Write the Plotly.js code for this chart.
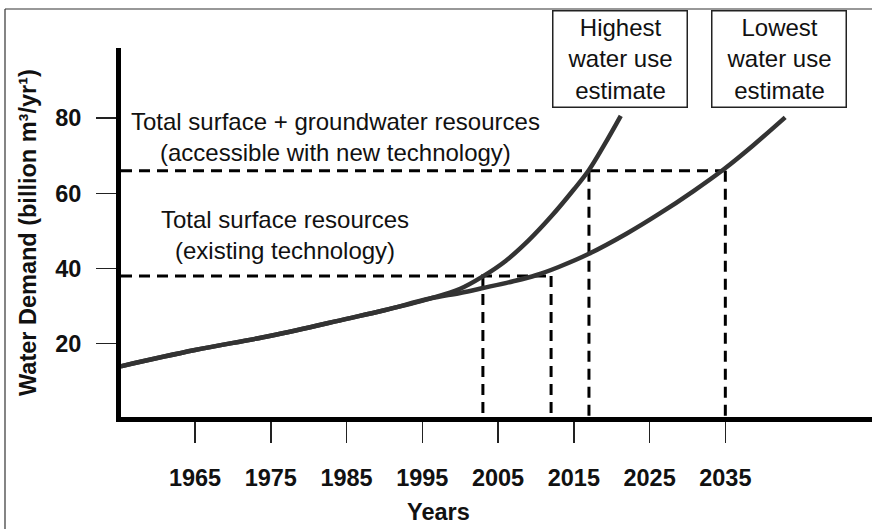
<!DOCTYPE html>
<html>
<head>
<meta charset="utf-8">
<script src="https://cdn.plot.ly/plotly-3.0.1.min.js"></script>
<style>
  html, body { margin: 0; padding: 0; background: #ffffff; }
  #chart { width: 872px; height: 529px; }
</style>
</head>
<body>
<div id="chart"></div>
<script>
// ---- Data ----
const yearsHigh  = [1955.2, 1965, 1975, 1985, 1990, 1996, 2000, 2003, 2006, 2009, 2012, 2015, 2017, 2019, 2021.2];
const demandHigh = [14.0, 18.3, 22.1, 26.6, 28.9, 32.0, 34.6, 37.9, 42.0, 47.4, 53.8, 61.0, 66.2, 72.8, 80.6];

const yearsLow  = [1955.2, 1965, 1975, 1985, 1990, 1996, 2000, 2003, 2007, 2010, 2013, 2017, 2022, 2026.4, 2030.8, 2034.8, 2038.7, 2042.9];
const demandLow = [14.0, 18.3, 22.1, 26.6, 28.9, 32.0, 33.5, 34.8, 36.6, 38.2, 40.4, 43.9, 49.3, 54.7, 60.6, 66.4, 72.8, 80.2];

// resource limits (billion m3/yr) and the years each estimate reaches them
const resourceLimits   = [38, 66];
const limitYearsHigh   = [2003, 2017];
const limitYearsLow    = [2012, 2035];
const limitLabels = [
  "Total surface resources<br>(existing technology)",
  "Total surface + groundwater resources<br>(accessible with new technology)"
];

const xTickVals = [1965, 1975, 1985, 1995, 2005, 2015, 2025, 2035];
const xTickText = ["1965", "1975", "1985", "1995", "2005", "2015", "2025", "2035"];
const yTickVals = [20, 40, 60, 80];
const yTickText = ["20", "40", "60", "80"];

const boxLabels = ["Highest<br>water use<br>estimate", "Lowest<br>water use<br>estimate"];

// ---- Build traces ----
const X0 = 1955.23, X1 = 2054.36;
const Y0 = 0.5, Y1 = 98.64;
const FONT = "Liberation Sans, Arial, Helvetica, sans-serif";
const dashStyle = {color: "#000000", width: 3, dash: "11px,7px"};

const traces = [];
resourceLimits.forEach((lim, i) => {
  const xEnd = Math.max(limitYearsHigh[i], limitYearsLow[i]);
  traces.push({x: [X0, xEnd], y: [lim, lim], mode: "lines", line: dashStyle, hoverinfo: "skip"});
  [limitYearsHigh[i], limitYearsLow[i]].forEach(yr => {
    traces.push({x: [yr, yr], y: [lim, 0], mode: "lines", line: dashStyle, hoverinfo: "skip"});
  });
});
traces.push({x: yearsHigh, y: demandHigh, mode: "lines",
  line: {color: "#333333", width: 4.5, shape: "spline", smoothing: 1}, name: "Highest"});
traces.push({x: yearsLow, y: demandLow, mode: "lines",
  line: {color: "#333333", width: 4.5, shape: "spline", smoothing: 1}, name: "Lowest"});

// ---- Layout ----
const W = 872, H = 529, L = 121, R = 0, T = 48, B = 112;
const pw = W - L - R, ph = H - T - B;
const px = v => (v - L) / pw;       // pixel -> paper x
const py = v => (H - B - v) / ph;   // pixel -> paper y

const txt = {family: FONT, size: 24, color: "#111"};
const bold = {family: FONT, size: 23.5, color: "#111", weight: "bold"};

const annotations = [
  {text: limitLabels[1], xref: "x", yref: "y", x: 1983.5, y: 75, showarrow: false,
   xanchor: "center", yanchor: "middle", font: txt, align: "center"},
  {text: limitLabels[0], xref: "x", yref: "y", x: 1976.9, y: 48.9, showarrow: false,
   xanchor: "center", yanchor: "middle", font: txt, align: "center"},
  {text: boxLabels[0], xref: "paper", yref: "paper", x: px(619.5), y: py(59), showarrow: false,
   xanchor: "center", yanchor: "middle", font: txt, align: "center",
   width: 131, height: 93, bordercolor: "#222", borderwidth: 1.5, borderpad: 1, bgcolor: "#fff"},
  {text: boxLabels[1], xref: "paper", yref: "paper", x: px(778.5), y: py(59), showarrow: false,
   xanchor: "center", yanchor: "middle", font: txt, align: "center",
   width: 131, height: 93, bordercolor: "#222", borderwidth: 1.5, borderpad: 1, bgcolor: "#fff"},
  {text: "Water Demand (billion m³/yr¹)", xref: "paper", yref: "paper", x: px(28), y: py(233),
   xanchor: "center", yanchor: "middle", textangle: -90, showarrow: false, font: bold},
  {text: "Years", xref: "paper", yref: "paper", x: px(438), y: py(512), showarrow: false,
   xanchor: "center", yanchor: "middle", font: bold}
];

const shapes = [
  {type: "line", xref: "paper", yref: "paper", x0: px(5), x1: px(5), y0: py(H + 2), y1: py(9),
   line: {color: "#333", width: 1.2}},
  {type: "line", xref: "paper", yref: "paper", x0: px(5), x1: px(W + 2), y0: py(9), y1: py(9),
   line: {color: "#333", width: 1.2}}
];

const layout = {
  width: W, height: H,
  margin: {l: L, r: R, t: T, b: B, pad: 0},
  paper_bgcolor: "#ffffff", plot_bgcolor: "#ffffff",
  showlegend: false,
  font: {family: FONT, color: "#111"},
  xaxis: {
    range: [X0, X1], showgrid: false, zeroline: false,
    showline: true, linecolor: "#000", linewidth: 5,
    ticks: "outside", ticklen: 21, tickwidth: 1.5, tickcolor: "#222",
    tickvals: xTickVals, ticktext: xTickText, ticklabelstandoff: 15,
    tickfont: {family: FONT, size: 23.5, color: "#111", weight: "bold"}
  },
  yaxis: {
    range: [Y0, Y1], showgrid: false, zeroline: false,
    showline: true, linecolor: "#000", linewidth: 5,
    ticks: "outside", ticklen: 20, tickwidth: 1.5, tickcolor: "#222",
    tickvals: yTickVals, ticktext: yTickText, ticklabelstandoff: 10,
    tickfont: {family: FONT, size: 23.5, color: "#111", weight: "bold"}
  },
  annotations: annotations,
  shapes: shapes
};

Plotly.newPlot("chart", traces, layout, {staticPlot: true, displayModeBar: false});
</script>
</body>
</html>
